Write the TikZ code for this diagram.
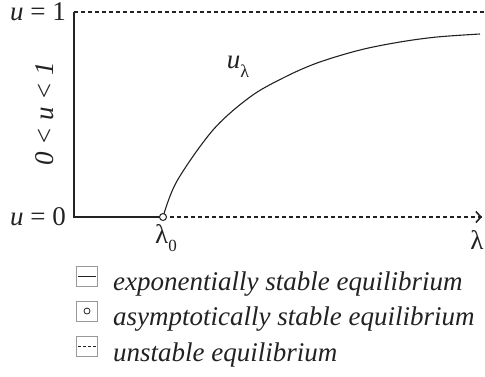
\documentclass[tikz,border=0pt]{standalone}
\usepackage{fontspec}
\setmainfont{LiberationSerif-Regular.ttf}[ItalicFont=LiberationSerif-Italic.ttf]
\usetikzlibrary{arrows.meta}
\definecolor{ink}{HTML}{222222}
\tikzset{
  axisline/.style={draw=ink, line width=1.1pt},
  dashline/.style={draw=ink, line width=1.1pt, dash pattern=on 4pt off 3pt},
  legbox/.style={draw=gray!80, line width=0.9pt, minimum width=21pt, minimum height=20pt, inner sep=0pt},
  legtext/.style={anchor=base west, inner sep=0pt, text=ink, font=\fontsize{27}{32}\selectfont\itshape},
  lbl/.style={text=ink, inner sep=0pt}
}
\begin{document}
\begin{tikzpicture}[x=1pt,y=-1pt, font=\fontsize{27}{32}\selectfont]
\useasboundingbox (0,0) rectangle (485,376);
% axes
\coordinate (T) at (74,12);
\coordinate (O) at (74,217);
\coordinate (TR) at (485,12);
\coordinate (l0) at (163,217);
\coordinate (E) at (482,217);
\draw[axisline] (T) -- (O) -- (l0);
\draw[dashline] (T) -- (TR);
\draw[dashline] (l0) -- (E);
\draw[ink, line width=1.6pt, -{Straight Barb[length=5pt,width=11pt]}] (478,217) -- (E);
% curve
\draw[ink, line width=1.1pt] plot[smooth, tension=0.55] coordinates {(163,217) (177,181) (213,130) (250,97) (283,78) (317,63) (360,50) (400,42) (437,37) (480,34)};
\node[circle, draw=ink, fill=white, line width=1pt, inner sep=0pt, minimum size=7pt] (c0) at (l0) {};
% labels
\node[lbl, anchor=base east] (u1) at (66,20) {\textit{u} = 1};
\node[lbl, anchor=base east] (u0) at (66,225) {\textit{u} = 0};
\node[lbl, rotate=90] (mid) at (45,114) {\textit{0 < u < 1}};
\node[lbl] (lab0) at (166,238) {λ\raisebox{-0.28em}{\fontsize{17}{17}\selectfont 0}};
\node[lbl] (lab) at (477,240) {λ};
\node[lbl] (ul) at (238,67) {\textit{u}\raisebox{-0.32em}{\fontsize{18}{18}\selectfont λ}};
% legend
\node[legbox] (b1) at (87,276) {};
\draw[ink, line width=0.9pt] ([xshift=2pt]b1.west) -- ([xshift=-2pt]b1.east);
\node[legbox] (b2) at (87,311) {};
\node[circle, draw=ink, line width=0.8pt, inner sep=0pt, minimum size=6pt] (c2) at (b2.center) {};
\node[legbox] (b3) at (87,346) {};
\draw[ink, line width=0.9pt, dash pattern=on 3pt off 2pt] ([xshift=2pt]b3.west) -- ([xshift=-2pt]b3.east);
\node[legtext] (t1) at (113,290) {exponentially stable equilibrium};
\node[legtext] (t2) at (113,325) {asymptotically stable equilibrium};
\node[legtext] (t3) at (113,361) {unstable equilibrium};
\end{tikzpicture}
\end{document}
